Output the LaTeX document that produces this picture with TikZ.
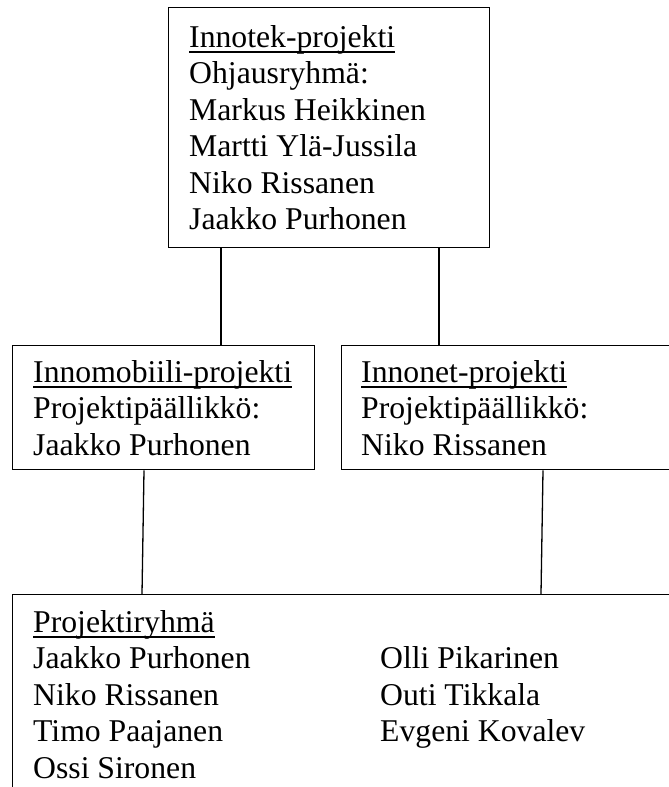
\documentclass[tikz,border=0pt]{standalone}
\usepackage{fontspec}
\setmainfont{Liberation Serif}
\begin{document}
\begin{tikzpicture}[x=1pt,y=-1pt,
  box/.style={draw=black,line width=1.3pt,rectangle,inner sep=0pt,anchor=north west},
  txt/.style={inner sep=0pt,anchor=base west,font=\fontsize{31.7}{36.5}\selectfont},
  uline/.style={line width=1.5pt},
  link/.style={line width=1.3pt}]
\useasboundingbox (0,0) rectangle (669,787);
\clip (0,0) rectangle (669,787);

% boxes
\node[box,minimum width=321pt,minimum height=240pt] (steer) at (168,7) {};
\node[box,minimum width=302pt,minimum height=124pt] (mobi) at (12,345) {};
\node[box,minimum width=400pt,minimum height=124pt] (net) at (341,345) {};
\node[box,minimum width=700pt,minimum height=300pt] (team) at (12,594) {};

% steering group
\node[txt] (steerh) at (189,47) {Innotek-projekti};
\draw[uline] ([yshift=-5pt]steerh.base west) -- ([yshift=-5pt]steerh.base east);
\foreach \t [count=\i] in {Ohjausryhmä:,Markus Heikkinen,Martti Ylä-Jussila,Niko Rissanen,Jaakko Purhonen}
  \node[txt] (steer\i) at (189,47+36.5*\i) {\t};

% Innomobiili project
\node[txt] (mobih) at (33,382) {Innomobiili-projekti};
\draw[uline] ([yshift=-5pt]mobih.base west) -- ([yshift=-5pt]mobih.base east);
\node[txt] (mobi1) at (33,418.5) {Projektipäällikkö:};
\node[txt] (mobi2) at (33,455) {Jaakko Purhonen};

% Innonet project
\node[txt] (neth) at (361,382) {Innonet-projekti};
\draw[uline] ([yshift=-5pt]neth.base west) -- ([yshift=-5pt]neth.base east);
\node[txt] (net1) at (361,418.5) {Projektipäällikkö:};
\node[txt] (net2) at (361,455) {Niko Rissanen};

% project team
\node[txt] (teamh) at (33,632) {Projektiryhmä};
\draw[uline] ([yshift=-5pt]teamh.base west) -- ([yshift=-5pt]teamh.base east);
\foreach \t [count=\i] in {Jaakko Purhonen,Niko Rissanen,Timo Paajanen,Ossi Sironen}
  \node[txt] (teama\i) at (33,632+36.5*\i) {\t};
\foreach \t [count=\i] in {Olli Pikarinen,Outi Tikkala,Evgeni Kovalev}
  \node[txt] (teamb\i) at (380,632+36.5*\i) {\t};

% connectors
\draw[link] ([xshift=53pt]steer.south west) -- ([xshift=209pt]mobi.north west);
\draw[link] ([xshift=271pt]steer.south west) -- ([xshift=98pt]net.north west);
\draw[link] ([xshift=132pt]mobi.south west) -- ([xshift=130pt]team.north west);
\draw[link] ([xshift=202pt]net.south west) -- ([xshift=529pt]team.north west);
\end{tikzpicture}
\end{document}
